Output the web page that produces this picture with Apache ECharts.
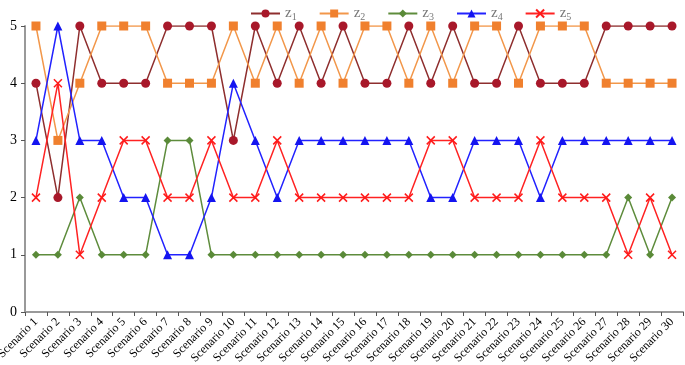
<!DOCTYPE html>
<html>
<head>
<meta charset="utf-8">
<script src="https://cdn.jsdelivr.net/npm/echarts@6/dist/echarts.min.js"></script>
<style>html,body{margin:0;padding:0;background:#fff}#c{width:685px;height:365px}</style>
</head>
<body>
<div id="c"></div>
<script>
var categories = [];
for (var i = 1; i <= 30; i++) categories.push('Scenario ' + i);
var seriesNames = ['z1', 'z2', 'z3', 'z4', 'z5'];
var z1 = [4,2,5,4,4,4,5,5,5,3, 5,4,5,4,5,4,4,5,4,5, 4,4,5,4,4,4,5,5,5,5];
var z2 = [5,3,4,5,5,5,4,4,4,5, 4,5,4,5,4,5,5,4,5,4, 5,5,4,5,5,5,4,4,4,4];
var z3 = [1,1,2,1,1,1,3,3,1,1, 1,1,1,1,1,1,1,1,1,1, 1,1,1,1,1,1,1,2,1,2];
var z4 = [3,5,3,3,2,2,1,1,2,4, 3,2,3,3,3,3,3,3,2,2, 3,3,3,2,3,3,3,3,3,3];
var z5 = [2,4,1,2,3,3,2,2,3,2, 2,3,2,2,2,2,2,2,3,3, 2,2,2,3,2,2,2,1,2,1];
var yTicks = [0,1,2,3,4,5];

var serif = '"Liberation Serif", "Times New Roman", serif';
var chart = echarts.init(document.getElementById('c'));
function mk(name, data, lineColor, markColor, symbol, size, extra) {
  var s = {
    name: name, type: 'line', data: data, symbol: symbol, symbolSize: size,
    lineStyle: {color: lineColor, width: 1.5},
    itemStyle: {color: markColor},
    emphasis: {disabled: true}
  };
  if (extra) s.itemStyle = Object.assign(s.itemStyle, extra);
  return s;
}
var cross = 'path://M0,0L10,10M10,0L0,10';
chart.setOption({
  animation: false,
  legend: {
    top: 1, left: 245, itemGap: 22, itemWidth: 29, itemHeight: 10,
    data: seriesNames,
    formatter: function (n) { return 'z{s|' + n.slice(1) + '}'; },
    textStyle: {fontFamily: serif, fontSize: 15, color: '#777',
      rich: {s: {fontFamily: serif, fontSize: 10, color: '#777', padding: [7, 0, 0, 0]}}}
  },
  grid: {left: 25, right: 2, top: 26, bottom: 53, containLabel: false, outerBoundsMode: 'none'},
  xAxis: {
    type: 'category', data: categories, boundaryGap: true,
    axisLine: {lineStyle: {color: '#999', width: 2}},
    axisTick: {show: true, length: 4, lineStyle: {color: '#555'}},
    axisLabel: {rotate: 45, interval: 0, fontFamily: serif, fontSize: 12, color: '#000', margin: 8}
  },
  yAxis: {
    type: 'value', min: 0, max: 5, interval: 1,
    splitLine: {show: false},
    axisLine: {show: true, lineStyle: {color: '#999', width: 2}},
    axisTick: {show: true, length: 4, lineStyle: {color: '#555'}},
    axisLabel: {fontFamily: serif, fontSize: 14, color: '#000', margin: 8,
      formatter: function (v) { return yTicks.indexOf(v) >= 0 ? String(v) : ''; }}
  },
  series: [
    mk('z1', z1, '#8E2E2E', '#A8182A', 'circle', 9),
    mk('z2', z2, '#F2974A', '#F0802E', 'rect', 9),
    mk('z3', z3, '#5E8C3C', '#5A8A38', 'diamond', 8),
    mk('z4', z4, '#2222FF', '#1414F0', 'triangle', 9),
    mk('z5', z5, '#FF2222', '#FF1A1A', cross, 8, {borderColor: '#FF1A1A', borderWidth: 1.5})
  ]
});
</script>
</body>
</html>
